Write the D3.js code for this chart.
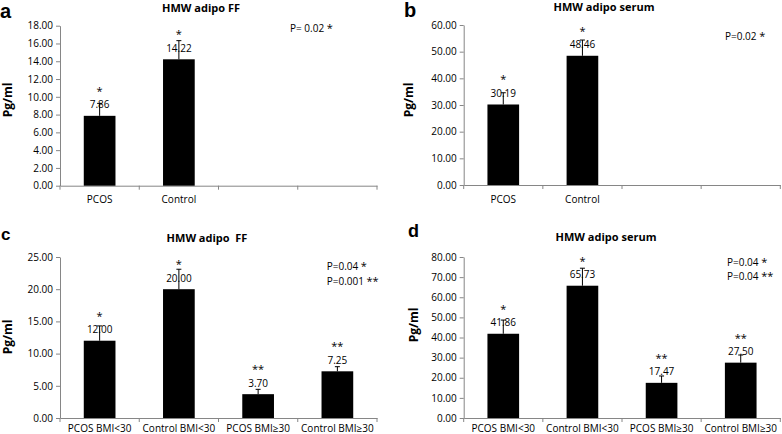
<!DOCTYPE html>
<html><head><meta charset="utf-8">
<script src="https://cdn.jsdelivr.net/npm/d3@7"></script>
<style>
body{margin:0;background:#fff;}
svg{display:block;}
text{font-family:"Open Sans","DejaVu Sans",sans-serif;}
</style></head>
<body><svg id="chart" width="782" height="434"></svg>
<script>
// ---- data ----
const catsAB = ["PCOS", "Control", "", ""];
const catsCD = ["PCOS BMI<30", "Control BMI<30", "PCOS BMI\u226530", "Control BMI\u226530"];
const valuesA = [7.86, 14.22];
const errorsA = [1.4, 2.1];
const valuesB = [30.19, 48.46];
const errorsB = [4.4, 5.9];
const valuesC = [12.00, 20.00, 3.70, 7.25];
const errorsC = [2.3, 3.1, 0.75, 0.72];
const valuesD = [41.86, 65.73, 17.47, 27.50];
const errorsD = [6.8, 8.7, 3.4, 3.8];
const starsAB = ["*", "*"];
const starsCD = ["*", "*", "**", "**"];
const yTicksA = [0, 2, 4, 6, 8, 10, 12, 14, 16, 18];
const yTicksB = [0, 10, 20, 30, 40, 50, 60];
const yTicksC = [0, 5, 10, 15, 20, 25];
const yTicksD = [0, 10, 20, 30, 40, 50, 60, 70, 80];
const titles = ["HMW adipo FF", "HMW adipo serum", "HMW adipo  FF", "HMW adipo serum"];
const letters = ["a", "b", "c", "d"];
const yLabel = "Pg/ml";
const pA = [["P= 0.02 ", "*"]];
const pB = [["P=0.02 ", "*"]];
const pC = [["P=0.04 ", "*"], ["P=0.001 ", "**"]];
const pD = [["P=0.04 ", "*"], ["P=0.04 ", "**"]];

// ---- layout ----
const panels = [
  {cats: catsAB, vals: valuesA, errs: errorsA, stars: starsAB, ticks: yTicksA, p: pA,
   L: 60, R: 377, T: 25.7, B: 185.7, title: [201, 12], letter: [0, 17.7, 20], ylab: [8, 100], xlabY: 203.5, pPos: [290, 31.5], pGap: 13},
  {cats: catsAB, vals: valuesB, errs: errorsB, stars: starsAB, ticks: yTicksB, p: pB,
   L: 463.7, R: 780.3, T: 25, B: 185, title: [604, 11], letter: [404, 16.7, 20], ylab: [408.5, 100], xlabY: 203, pPos: [725, 40], pGap: 13},
  {cats: catsCD, vals: valuesC, errs: errorsC, stars: starsCD, ticks: yTicksC, p: pC,
   L: 60, R: 377, T: 257, B: 418, title: [207, 242], letter: [1, 240, 17], ylab: [8, 337], xlabY: 432, pPos: [326.7, 270], pGap: 14.5},
  {cats: catsCD, vals: valuesD, errs: errorsD, stars: starsCD, ticks: yTicksD, p: pD,
   L: 463.7, R: 780.3, T: 257, B: 418, title: [606, 241], letter: [408, 237, 18], ylab: [414, 325], xlabY: 432, pPos: [727, 266], pGap: 13.5}
];

const svg = d3.select("#chart");
const axisColor = "#868686";

panels.forEach((P, pi) => {
  const g = svg.append("g");
  const idx = d3.range(P.cats.length);
  const x = d3.scaleBand().domain(idx).range([P.L, P.R]).paddingInner(0.6).paddingOuter(0.3);
  const y = d3.scaleLinear().domain([0, d3.max(P.ticks)]).range([P.B, P.T]);

  // y axis
  const ya = g.append("g").attr("transform", `translate(${P.L},0)`)
    .call(d3.axisLeft(y).tickValues(P.ticks).tickFormat(d3.format(".2f")).tickSize(4).tickSizeOuter(0));
  ya.select(".domain").attr("stroke", axisColor);
  ya.selectAll(".tick line").attr("stroke", axisColor);
  ya.selectAll(".tick text").attr("font-size", 10).attr("fill", "#000")
    .style("font-family", '"Open Sans",sans-serif');

  // x axis
  const xa = g.append("g").attr("transform", `translate(0,${P.B})`)
    .call(d3.axisBottom(x).tickFormat(i => P.cats[i]).tickSize(0).tickSizeOuter(0).tickPadding(0));
  xa.select(".domain").attr("stroke", axisColor);
  xa.selectAll(".tick text").attr("font-size", 10).attr("fill", "#000")
    .attr("y", P.xlabY - P.B).attr("dy", 0)
    .style("font-family", '"Open Sans",sans-serif');
  // boundary ticks
  const bounds = d3.range(P.cats.length + 1).map(i => x.range()[0] + i * x.step());
  g.selectAll(".bt").data(bounds).join("line")
    .attr("x1", d => d).attr("x2", d => d).attr("y1", P.B).attr("y2", P.B + 4)
    .attr("stroke", axisColor);

  // bars
  g.selectAll(".bar").data(P.vals).join("rect")
    .attr("x", (d, i) => x(i)).attr("width", x.bandwidth())
    .attr("y", d => y(d)).attr("height", d => y(0) - y(d)).attr("fill", "#000");

  // error bars
  const cx = i => x(i) + x.bandwidth() / 2;
  g.selectAll(".eb").data(P.vals).join("line")
    .attr("x1", (d, i) => cx(i)).attr("x2", (d, i) => cx(i))
    .attr("y1", d => y(d)).attr("y2", (d, i) => y(d + P.errs[i]))
    .attr("stroke", "#000").attr("stroke-width", 1);
  g.selectAll(".ec").data(P.vals).join("line")
    .attr("x1", (d, i) => cx(i) - 2.5).attr("x2", (d, i) => cx(i) + 2.5)
    .attr("y1", (d, i) => y(d + P.errs[i])).attr("y2", (d, i) => y(d + P.errs[i]))
    .attr("stroke", "#000").attr("stroke-width", 1);

  // value labels
  g.selectAll(".vl").data(P.vals).join("text")
    .attr("x", (d, i) => cx(i)).attr("y", d => y(d) - 7.5)
    .attr("text-anchor", "middle").attr("font-size", 10).attr("fill", "#000")
    .text(d => d3.format(".2f")(d));

  // stars
  g.selectAll(".st").data(P.vals).join("text")
    .attr("x", (d, i) => cx(i)).attr("y", d => y(d) - 21)
    .attr("text-anchor", "middle").attr("font-size", 11).attr("fill", "#000")
    .text((d, i) => P.stars[i]);

  // title
  g.append("text").attr("x", P.title[0]).attr("y", P.title[1])
    .attr("text-anchor", "middle").attr("font-size", 11).attr("font-weight", "bold")
    .style("white-space", "pre").text(titles[pi]);

  // letter
  g.append("text").attr("x", P.letter[0]).attr("y", P.letter[1])
    .attr("font-size", P.letter[2]).attr("font-weight", "bold")
    .style("font-family", '"Liberation Sans",Arial,sans-serif').text(letters[pi]);

  // y label
  g.append("text").attr("transform", `translate(${P.ylab[0] + 4},${P.ylab[1]}) rotate(-90)`)
    .attr("text-anchor", "middle").attr("font-size", 12).attr("font-weight", "bold")
    .text(yLabel);

  // p values
  P.p.forEach((pp, k) => {
    const t = g.append("text").attr("x", P.pPos[0]).attr("y", P.pPos[1] + k * P.pGap)
      .attr("font-size", 10).attr("fill", "#000");
    t.append("tspan").text(pp[0]);
    t.append("tspan").attr("font-size", 11).text(pp[1]);
  });
});
</script>
</body></html>
